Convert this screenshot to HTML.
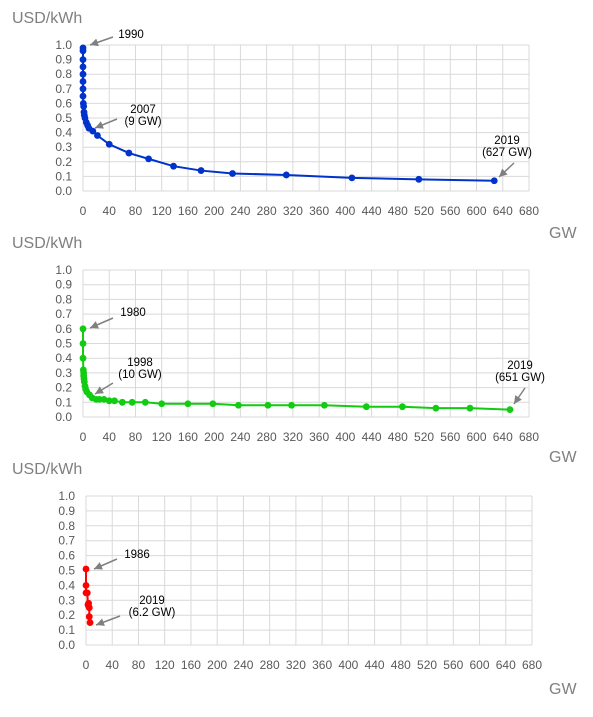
<!DOCTYPE html>
<html><head><meta charset="utf-8"><style>
body{margin:0;background:#fff;width:593px;height:712px;overflow:hidden}
svg text{font-family:"Liberation Sans",sans-serif}
</style></head><body>
<svg id="c" width="593" height="712"></svg>
<script>
const xTicks=[0,40,80,120,160,200,240,280,320,360,400,440,480,520,560,600,640,680];
const yTicks=[0,0.1,0.2,0.3,0.4,0.5,0.6,0.7,0.8,0.9,1.0];
const solarGW=[0,0,0,0,0,0,0,0,0.5,1,1.5,2,3,5,7,9,15,22,40,70,100,138,180,228,310,410,512,627];
const solarUSD=[0.98,0.96,0.9,0.85,0.8,0.75,0.7,0.65,0.6,0.58,0.54,0.52,0.5,0.47,0.45,0.43,0.41,0.38,0.32,0.26,0.22,0.17,0.14,0.12,0.11,0.09,0.08,0.07];
const windGW=[0,0,0,0.5,1,1,1.5,2,3,4,6,10,14,20,25,32,40,48,60,75,95,120,160,198,237,282,318,368,432,487,538,590,651];
const windUSD=[0.6,0.5,0.4,0.32,0.3,0.28,0.26,0.24,0.21,0.19,0.17,0.15,0.13,0.12,0.12,0.12,0.11,0.11,0.10,0.10,0.10,0.09,0.09,0.09,0.08,0.08,0.08,0.08,0.07,0.07,0.06,0.06,0.05];
const stGW=[0,0,0,2,3,4,4,5,5,6.2];
const stUSD=[0.51,0.4,0.35,0.35,0.27,0.28,0.26,0.25,0.19,0.15];
const NS="http://www.w3.org/2000/svg";
const svg=document.getElementById('c');
function mk(t,a,p){const e=document.createElementNS(NS,t);for(const k in a)e.setAttribute(k,a[k]);(p||svg).appendChild(e);return e;}
function chart(id,left,right,top,bottom,gw,usd,color,titleY,gwY,notes){
  const g=mk('g',{});
  
  
  const xs=v=>left+v/680*(right-left), ys=v=>bottom-v*(bottom-top);
  yTicks.forEach(t=>{mk('line',{x1:left,x2:right,y1:ys(t),y2:ys(t),stroke:'#d9d9d9','stroke-width':1},g);
    const tx=mk('text',{x:left-11,y:ys(t)+4,'text-anchor':'end','font-size':12,fill:'#595959'},g);tx.textContent=t.toFixed(1);
    });
  xTicks.forEach(t=>{mk('line',{x1:xs(t),x2:xs(t),y1:top,y2:bottom,stroke:'#d9d9d9','stroke-width':1},g);
    const tx=mk('text',{x:xs(t),y:bottom+24,'text-anchor':'middle','font-size':12,fill:'#595959'},g);tx.textContent=t;
    });
  mk('line',{x1:right,x2:right,y1:top,y2:bottom,stroke:'#d9d9d9'},g);
  const t1=mk('text',{x:12,y:titleY,'font-size':16,fill:'#7f7f7f'},g);t1.textContent='USD/kWh';
  
  const t2=mk('text',{x:549,y:gwY,'font-size':16,fill:'#7f7f7f'},g);t2.textContent='GW';
  
  const pts=gw.map((v,i)=>xs(v)+','+ys(usd[i])).join(' ');
  const pl=mk('polyline',{points:pts,fill:'none',stroke:color,'stroke-width':2},g);
  
  gw.forEach((v,i)=>{const c=mk('circle',{cx:xs(v),cy:ys(usd[i]),r:3.4,fill:color},g);
    });
  notes.forEach(n=>{
    n.lines.forEach((l,k)=>{const tx=mk('text',{x:n.tx,y:n.ty+k*12,'text-anchor':'middle','font-size':11.5,fill:'#000'},g);tx.textContent=l;
      });
    const x1=n.a[0],y1=n.a[1],x2=n.a[2],y2=n.a[3];
    mk('line',{x1:x1,y1:y1,x2:x2,y2:y2,stroke:'#808080','stroke-width':1.5},g);
    const ang=Math.atan2(y2-y1,x2-x1),L=8,W=4;
    const bx=x2-L*Math.cos(ang),by=y2-L*Math.sin(ang);
    const ar=mk('polygon',{points:`${x2},${y2} ${bx+W*Math.sin(ang)},${by-W*Math.cos(ang)} ${bx-W*Math.sin(ang)},${by+W*Math.cos(ang)}`,fill:'#808080'},g);
    
  });
}
chart('solar-pv-chart',83,529,45,191,solarGW,solarUSD,'#0033cc',23,238,[
 {lines:['1990'],tx:131,ty:38,a:[113,37,90,45]},
 {lines:['2007','(9 GW)'],tx:143,ty:113,a:[117,119,95,128]},
 {lines:['2019','(627 GW)'],tx:507,ty:144,a:[514,163,499,177]}]);
chart('onshore-wind-chart',83,529,270,417,windGW,windUSD,'#11cc11',248,462,[
 {lines:['1980'],tx:133,ty:316,a:[113,318,90,328]},
 {lines:['1998','(10 GW)'],tx:140,ty:366,a:[113,383,95,394]},
 {lines:['2019','(651 GW)'],tx:520,ty:369,a:[525,388,514,404]}]);
chart('solar-thermal-chart',86,532,496,645,stGW,stUSD,'#ff0000',474,694,[
 {lines:['1986'],tx:137,ty:558,a:[117,559,94,569]},
 {lines:['2019','(6.2 GW)'],tx:152,ty:604,a:[120,616,96,625]}]);
</script>
</body></html>
